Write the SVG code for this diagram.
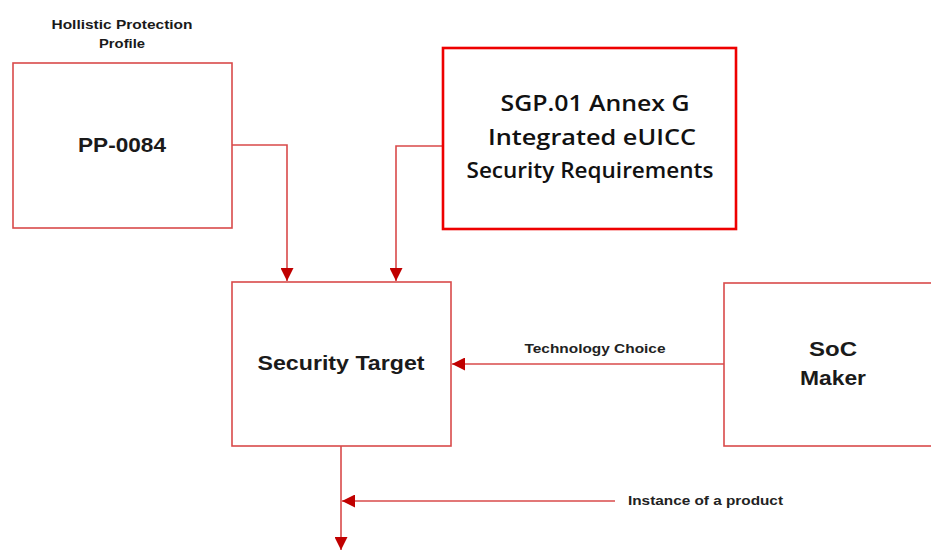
<svg xmlns="http://www.w3.org/2000/svg" width="931" height="550" viewBox="0 0 931 550">
<style>
.box{fill:#fff;stroke:#d94a4a;stroke-width:1.6}
.box2{fill:#fff;stroke:#ee0000;stroke-width:2.6}
.line{fill:none;stroke:#d94a4a;stroke-width:1.6}
.t{font-family:"Liberation Sans",Arial,sans-serif;font-weight:bold;fill:#1a1a1a;text-anchor:middle}
.c{font-family:"Open Sans","Liberation Sans",sans-serif;font-weight:600;fill:#111;text-anchor:middle}
.lbl{font-family:"Liberation Sans",Arial,sans-serif;font-weight:bold;fill:#222;font-size:13.5px}
</style>
<defs>
<marker id="ah" viewBox="0 0 10 10" refX="10" refY="5" markerWidth="13" markerHeight="13" markerUnits="userSpaceOnUse" orient="auto">
<path d="M0,0 L10,5 L0,10 z" fill="#c00000"/>
</marker>
</defs>
<g id="connectors">
<path class="line" d="M232,145 H287 V281" marker-end="url(#ah)"/>
<path class="line" d="M443,146 H396 V281" marker-end="url(#ah)"/>
<path class="line" d="M724,364 H452" marker-end="url(#ah)"/>
<path class="line" d="M341,446 V550" marker-end="url(#ah)"/>
<path class="line" d="M615,501 H342" marker-end="url(#ah)"/>
<text class="lbl" x="595" y="353" text-anchor="middle" textLength="141" lengthAdjust="spacingAndGlyphs">Technology Choice</text>
<text class="lbl" x="628" y="505" textLength="155" lengthAdjust="spacingAndGlyphs">Instance of a product</text>
</g>
<g id="pp0084">
<text class="t" x="122" y="29" font-size="13.5" textLength="141" lengthAdjust="spacingAndGlyphs">Hollistic Protection</text>
<text class="t" x="122" y="48" font-size="13.5" textLength="46" lengthAdjust="spacingAndGlyphs">Profile</text>
<rect class="box" x="13" y="63" width="219" height="165"/>
<text class="t" x="122" y="152" font-size="21" textLength="88" lengthAdjust="spacingAndGlyphs">PP-0084</text>
</g>
<g id="sgp01">
<rect class="box2" x="443" y="48" width="293" height="181"/>
<text class="c" x="595" y="111" font-size="21" textLength="189" lengthAdjust="spacingAndGlyphs">SGP.01 Annex G</text>
<text class="c" x="592" y="145" font-size="21" textLength="208" lengthAdjust="spacingAndGlyphs">Integrated eUICC</text>
<text class="c" x="590" y="178" font-size="21" textLength="247" lengthAdjust="spacingAndGlyphs">Security Requirements</text>
</g>
<g id="st">
<rect class="box" x="232" y="282" width="219" height="164"/>
<text class="t" x="341" y="370" font-size="21" textLength="167" lengthAdjust="spacingAndGlyphs">Security Target</text>
</g>
<g id="soc">
<rect class="box" x="724" y="283" width="220" height="163"/>
<text class="t" x="833" y="356" font-size="21" textLength="48" lengthAdjust="spacingAndGlyphs">SoC</text>
<text class="t" x="833" y="385" font-size="21" textLength="66" lengthAdjust="spacingAndGlyphs">Maker</text>
</g>
</svg>
